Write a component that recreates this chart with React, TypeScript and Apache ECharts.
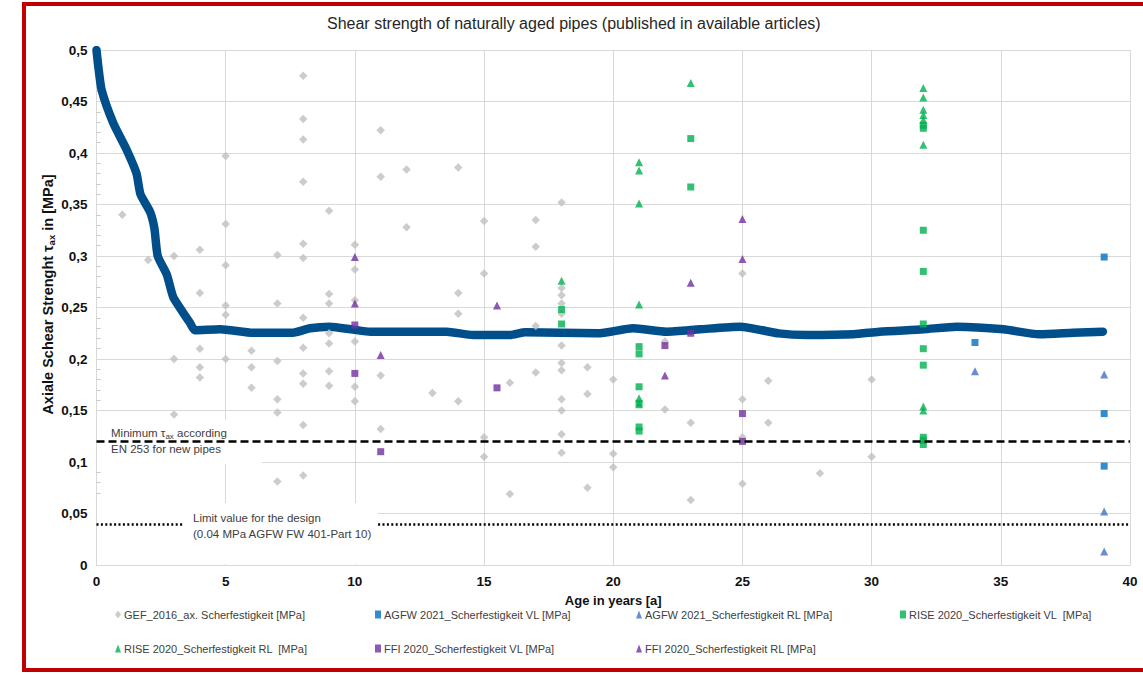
import React, { useEffect, useRef } from "react";
import * as echarts from "echarts";

// ---------- data ----------
const strengthCurve: [number, number][] = [
  [0, 0.5], [0.07, 0.484], [0.2, 0.461], [0.65, 0.429], [1.17, 0.403], [1.55, 0.38], [1.7, 0.36],
  [2.07, 0.343], [2.24, 0.327], [2.37, 0.3], [2.72, 0.282], [2.97, 0.26], [3.3, 0.247],
  [3.62, 0.235], [3.81, 0.228], [4.78, 0.229], [6.07, 0.2255], [7.6, 0.2255], [8.26, 0.2298],
  [9.03, 0.2314], [9.93, 0.2285], [10.6, 0.2265], [13.55, 0.2265], [14.58, 0.2233], [16, 0.2233],
  [16.6, 0.226], [19.4, 0.2249], [20.77, 0.2298], [22.06, 0.2265], [23.35, 0.2288], [24.9, 0.2314],
  [26.4, 0.2249], [27.5, 0.2233], [29.3, 0.224], [30.3, 0.2265], [32, 0.2288], [33.3, 0.2314],
  [35.1, 0.2288], [36.5, 0.224], [37.8, 0.2255], [38.95, 0.2265],
];

const gef2016: [number, number][] = [
  [1, 0.34], [2, 0.296],
  [3, 0.3], [3, 0.2], [3, 0.146],
  [4, 0.306], [4, 0.264], [4, 0.21], [4, 0.192], [4, 0.182],
  [5, 0.397], [5, 0.331], [5, 0.291], [5, 0.252], [5, 0.243], [5, 0.2],
  [6, 0.208], [6, 0.192], [6, 0.172],
  [7, 0.301], [7, 0.254], [7, 0.198], [7, 0.161], [7, 0.148], [7, 0.081],
  [8, 0.475], [8, 0.433], [8, 0.413], [8, 0.372], [8, 0.312], [8, 0.298], [8, 0.24], [8, 0.211],
  [8, 0.186], [8, 0.176], [8, 0.136], [8, 0.087],
  [9, 0.344], [9, 0.263], [9, 0.254], [9, 0.225], [9, 0.215], [9, 0.188], [9, 0.174],
  [10, 0.311], [10, 0.287], [10, 0.257], [10, 0.217], [10, 0.173], [10, 0.159],
  [11, 0.422], [11, 0.377], [11, 0.184], [11, 0.132],
  [12, 0.384], [12, 0.328],
  [13, 0.167],
  [14, 0.386], [14, 0.264], [14, 0.244], [14, 0.159],
  [15, 0.334], [15, 0.283], [15, 0.124], [15, 0.105],
  [16, 0.177], [16, 0.069],
  [17, 0.335], [17, 0.309], [17, 0.232], [17, 0.187],
  [18, 0.352], [18, 0.269], [18, 0.262], [18, 0.254], [18, 0.244], [18, 0.213], [18, 0.196],
  [18, 0.189], [18, 0.161], [18, 0.15], [18, 0.127], [18, 0.109],
  [19, 0.192], [19, 0.166], [19, 0.075],
  [20, 0.18], [20, 0.108], [20, 0.095],
  [22, 0.217], [22, 0.151],
  [23, 0.138], [23, 0.063],
  [25, 0.283], [25, 0.161], [25, 0.124], [25, 0.079],
  [26, 0.179], [26, 0.138],
  [28, 0.089],
  [30, 0.18], [30, 0.105],
];

const agfwVL: [number, number][] = [[34, 0.216], [39, 0.299], [39, 0.147], [39, 0.096]];
const agfwRL: [number, number][] = [[34, 0.188], [39, 0.185], [39, 0.052], [39, 0.013]];

const riseVL: [number, number][] = [
  [18, 0.248], [18, 0.234],
  [21, 0.212], [21, 0.205], [21, 0.173], [21, 0.157], [21, 0.134], [21, 0.13],
  [23, 0.414], [23, 0.367],
  [32, 0.427], [32, 0.424], [32, 0.325], [32, 0.285], [32, 0.234], [32, 0.21], [32, 0.194],
  [32, 0.124], [32, 0.121], [32, 0.117],
];
const riseRL: [number, number][] = [
  [18, 0.276],
  [21, 0.391], [21, 0.383], [21, 0.351], [21, 0.253], [21, 0.162], [21, 0.156],
  [23, 0.468],
  [32, 0.463], [32, 0.454], [32, 0.442], [32, 0.437], [32, 0.432], [32, 0.408], [32, 0.154], [32, 0.15],
];

const ffiVL: [number, number][] = [
  [10, 0.233], [10, 0.186], [11, 0.11], [15.5, 0.172], [22, 0.213], [23, 0.225], [25, 0.147], [25, 0.12],
];
const ffiRL: [number, number][] = [
  [10, 0.299], [10, 0.254], [11, 0.204], [15.5, 0.252], [22, 0.184], [23, 0.274], [25, 0.336], [25, 0.297],
];

const minimumEN253 = 0.12;
const designLimit = 0.04;

const seriesNames = [
  "GEF_2016_ax. Scherfestigkeit [MPa]",
  "AGFW 2021_Scherfestigkeit VL [MPa]",
  "AGFW 2021_Scherfestigkeit RL [MPa]",
  "RISE 2020_Scherfestigkeit VL  [MPa]",
  "RISE 2020_Scherfestigkeit RL  [MPa]",
  "FFI 2020_Scherfestigkeit VL [MPa]",
  "FFI 2020_Scherfestigkeit RL [MPa]",
];

const titleText = "Shear strength of naturally aged pipes (published in available articles)";

// ---------- chart ----------
const FONT = "'Liberation Sans', Arial, sans-serif";
const GRID = "#d9d9d9";

export default function App() {
  const ref = useRef<HTMLDivElement>(null);

  useEffect(() => {
    if (!ref.current) return;
    const chart = echarts.init(ref.current, undefined, { renderer: "svg" });

    const scatter = (name: string, data: [number, number][], symbol: string, color: string, size: number) => ({
      name,
      type: "scatter",
      data,
      symbol,
      symbolSize: size,
      itemStyle: { color },
      z: 3,
    });

    const legendPos: [number, number][] = [
      [115, 609], [375, 609], [636, 609], [900, 609],
      [115, 643], [375, 643], [636, 643],
    ];

    chart.setOption({
      animation: false,
      backgroundColor: "#ffffff",
      title: {
        text: titleText,
        left: 327,
        top: 15,
        padding: 0,
        textStyle: { fontFamily: FONT, fontSize: 16, fontWeight: "normal", color: "#262626" },
      },
      grid: { left: 96.5, right: 13, top: 50, bottom: 110, containLabel: false },
      xAxis: {
        type: "value",
        min: 0,
        max: 40,
        interval: 5,
        name: "Age in years [a]",
        nameLocation: "middle",
        nameGap: 29,
        nameTextStyle: { fontFamily: FONT, fontSize: 13, fontWeight: "bold", color: "#111" },
        axisLine: { show: true, lineStyle: { color: GRID } },
        axisTick: { show: false },
        axisLabel: { fontFamily: FONT, fontSize: 13.5, fontWeight: "bold", color: "#111", margin: 9 },
        splitLine: { show: true, lineStyle: { color: GRID, width: 1 } },
      },
      yAxis: {
        type: "value",
        min: 0,
        max: 0.5,
        interval: 0.05,
        name: "Axiale Schear Strenght τ{sub|ax} in [MPa]",
        nameLocation: "middle",
        nameMoveOverlap: false,
        nameGap: 40,
        nameTextStyle: {
          fontFamily: FONT,
          fontSize: 14.5,
          fontWeight: "bold",
          color: "#111",
          padding: [0, 0, 0, 26],
          rich: {
            sub: { fontFamily: FONT, fontSize: 9.5, fontWeight: "bold", color: "#111", verticalAlign: "bottom", padding: [7, 0, 0, 0] },
          },
        },
        axisLine: { show: true, lineStyle: { color: GRID } },
        axisTick: { show: true, inside: true, length: 4, lineStyle: { color: GRID } },
        minorTick: { show: true, splitNumber: 5, length: 4, lineStyle: { color: "#c8c8c8" } },
        axisLabel: {
          fontFamily: FONT,
          fontSize: 13.5,
          fontWeight: "bold",
          color: "#111",
          margin: 9,
          formatter: (v: number) => String(Math.round(v * 100) / 100).replace(".", ","),
        },
        splitLine: { show: true, lineStyle: { color: GRID, width: 1 } },
      },
      legend: seriesNames.map((n, i) => ({
        data: [n],
        left: legendPos[i][0],
        top: legendPos[i][1],
        padding: 0,
        itemWidth: 6,
        itemHeight: 8,
        selectedMode: false,
        textStyle: { fontFamily: FONT, fontSize: 11, color: "#404040", padding: [0, 0, 0, -2] },
      })),
      series: [
        {
          name: "trend",
          type: "line",
          data: strengthCurve,
          smooth: 0.2,
          showSymbol: false,
          symbol: "none",
          lineStyle: { color: "#004f8a", width: 8.5, cap: "round", join: "round" },
          z: 2,
          markLine: {
            silent: true,
            symbol: ["none", "none"],
            label: { show: false },
            data: [
              { yAxis: minimumEN253, lineStyle: { color: "#000", width: 2.5, type: [8, 4] } },
              { yAxis: designLimit, lineStyle: { color: "#000", width: 2.5, type: [2, 2.4] } },
            ],
          },
        },
        scatter(seriesNames[0], gef2016, "diamond", "#bfbfbf", 8.5),
        scatter(seriesNames[1], agfwVL, "rect", "#0070c0", 7),
        scatter(seriesNames[2], agfwRL, "triangle", "#4472c4", 8),
        scatter(seriesNames[3], riseVL, "rect", "#00b050", 7),
        scatter(seriesNames[4], riseRL, "triangle", "#00b050", 8),
        scatter(seriesNames[5], ffiVL, "rect", "#7030a0", 7),
        scatter(seriesNames[6], ffiRL, "triangle", "#7030a0", 8),
      ],
      graphic: [
        // text boxes hiding grid lines
        { type: "rect", z: 1, silent: true, shape: { x: 97, y: 420, width: 165, height: 44 }, style: { fill: "#ffffff" } },
        { type: "rect", z: 1, silent: true, shape: { x: 97, y: 503, width: 281, height: 61 }, style: { fill: "#ffffff" } },
        // gap in the dotted limit line
        { type: "rect", z: 10, silent: true, shape: { x: 183, y: 516, width: 195, height: 16 }, style: { fill: "#ffffff" } },
        {
          type: "text", z: 11, silent: true, x: 111, y: 433,
          style: {
            text: "Minimum τ{sub|ax} according",
            fontFamily: FONT, fontSize: 11.5, fill: "#404040", verticalAlign: "middle",
            rich: { sub: { fontFamily: FONT, fontSize: 8, fill: "#404040", padding: [6, 0, 0, 0] } },
          },
        },
        {
          type: "text", z: 11, silent: true, x: 111, y: 449,
          style: { text: "EN 253 for new pipes", fontFamily: FONT, fontSize: 11.5, fill: "#404040", verticalAlign: "middle" },
        },
        {
          type: "text", z: 11, silent: true, x: 193, y: 518,
          style: { text: "Limit value for the design", fontFamily: FONT, fontSize: 11.5, fill: "#404040", verticalAlign: "middle" },
        },
        {
          type: "text", z: 11, silent: true, x: 193, y: 534,
          style: { text: "(0.04 MPa AGFW FW 401-Part 10)", fontFamily: FONT, fontSize: 11.5, fill: "#404040", verticalAlign: "middle" },
        },
        // red frame
        {
          type: "rect", z: 20, silent: true,
          shape: { x: 24, y: 4, width: 1140, height: 666 },
          style: { fill: "none", stroke: "#c00000", lineWidth: 4 },
        },
      ],
    });

    return () => chart.dispose();
  }, []);

  return (
    <div
      ref={ref}
      style={{ position: "absolute", left: 0, top: 0, width: 1143, height: 675, background: "#fff" }}
    />
  );
}
